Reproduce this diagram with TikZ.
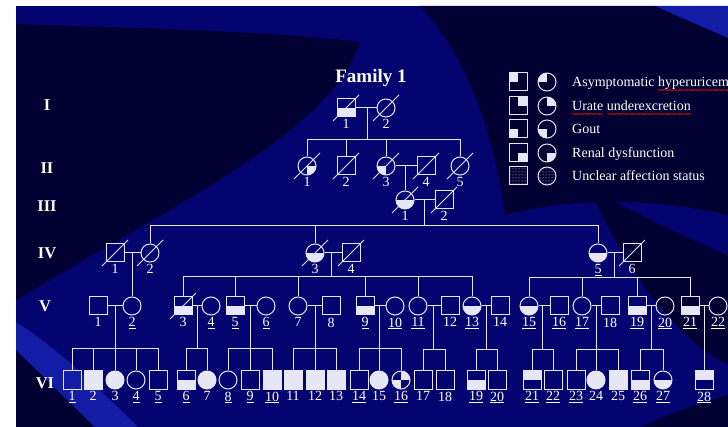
\documentclass[tikz,border=0pt]{standalone}
\usepackage{fontspec}
\setmainfont{Liberation Serif}
\usetikzlibrary{patterns,decorations.pathmorphing,positioning}

\definecolor{fg}{RGB}{230,230,245}
\definecolor{bgmid}{RGB}{4,4,112}
\definecolor{bgdark}{RGB}{0,0,50}
\definecolor{bglight}{RGB}{18,28,165}

\tikzstyle{male} = [draw=fg, rectangle, minimum size=18pt, inner sep=0pt, line width=1pt]
\tikzstyle{female} = [draw=fg, circle, minimum size=18pt, inner sep=0pt, line width=1pt]
\tikzstyle{full} = [fill=fg]
\tikzstyle{lowhalf} = [path picture={\fill[fg] (path picture bounding box.west) rectangle (path picture bounding box.south east);}]
\tikzstyle{uphalf} = [path picture={\fill[fg] (path picture bounding box.west) rectangle (path picture bounding box.north east);}]
\tikzstyle{qul} = [path picture={\fill[fg] (path picture bounding box.center) rectangle (path picture bounding box.north west);}]
\tikzstyle{qur} = [path picture={\fill[fg] (path picture bounding box.center) rectangle (path picture bounding box.north east);}]
\tikzstyle{qll} = [path picture={\fill[fg] (path picture bounding box.center) rectangle (path picture bounding box.south west);}]
\tikzstyle{qlr} = [path picture={\fill[fg] (path picture bounding box.center) rectangle (path picture bounding box.south east);}]
\tikzstyle{qurll} = [path picture={\fill[fg] (path picture bounding box.center) rectangle (path picture bounding box.north east);
  \fill[fg] (path picture bounding box.center) rectangle (path picture bounding box.south west);}]
\tikzstyle{link} = [draw=fg, line width=1pt]
\tikzstyle{num} = [text=white, font=\fontsize{14}{14}\selectfont, inner sep=0pt]
\tikzstyle{gen} = [text=white, font=\bfseries\fontsize{16.5}{16.5}\selectfont]
\tikzstyle{key} = [text=white, font=\fontsize{14}{14}\selectfont, anchor=base west, inner sep=0pt]
\tikzstyle{squig} = [draw=red!85!black, line width=0.6pt, decorate, decoration={snake, amplitude=0.8pt, segment length=3pt}]

\begin{document}
\begin{tikzpicture}[x=1pt, y=1pt, every label/.style={num}, label distance=2pt]

\useasboundingbox (0,0) rectangle (728,-427);
\clip (0,0) rectangle (728,-427);

% slide background
\fill [white] (0,0) rectangle (728,-427);
\fill [bgmid] (16,-6) rectangle (728,-427);
\fill [bgdark] (16,-24) .. controls (120,-28) and (260,-30) .. (360,-42)
  .. controls (330,-130) and (200,-190) .. (16,-300) -- cycle;
\fill [bgdark] (420,-6) -- (655,-6) -- (728,-38) -- (728,-215)
  .. controls (640,-195) and (560,-200) .. (505,-215)
  .. controls (495,-140) and (470,-60) .. (420,-6) -- cycle;
\fill [bglight] (655,-6) -- (728,-6) -- (728,-38) -- cycle;
\fill [bgdark] (590,-190) .. controls (640,-215) and (690,-240) .. (728,-255)
  -- (728,-365) .. controls (690,-345) and (640,-300) .. (590,-190) -- cycle;
\fill [bgdark] (640,-427) .. controls (680,-410) and (710,-400) .. (728,-395) -- (728,-427) -- cycle;
\fill [bgdark] (16,-350) -- (95,-427) -- (16,-427) -- cycle;
\fill [bglight] (16,-322) .. controls (60,-350) and (100,-390) .. (138,-427)
  -- (95,-427) -- (16,-350) -- cycle;

% title and generations
\node [text=white, font=\bfseries\fontsize{19}{19}\selectfont] (title) at (371,-78) {Family 1};
\node [gen] (gI) at (47,-105) {I};
\node [gen] (gII) at (47,-168) {II};
\node [gen] (gIII) at (47,-206) {III};
\node [gen] (gIV) at (47,-253) {IV};
\node [gen] (gV) at (45,-306) {V};
\node [gen] (gVI) at (45,-383) {VI};

% generation I
\node [male, lowhalf, label=below:1] (I1) at (346,-108) {};
\node [female, label=below:2] (I2) at (386,-108) {};

% generation II
\node [female, qlr, label=below:1] (II1) at (307,-166) {};
\node [male, label=below:2] (II2) at (346,-166) {};
\node [female, qll, label=below:3] (II3) at (386,-166) {};
\node [male, label=below:4] (II4) at (426,-166) {};
\node [female, label=below:5] (II5) at (460,-166) {};

% generation III
\node [female, lowhalf, label=below:1] (III1) at (405,-200) {};
\node [male, label=below:2] (III2) at (444,-200) {};

% generation IV
\node [male, label=below:1] (IV1) at (115,-253) {};
\node [female, label=below:2] (IV2) at (150,-253) {};
\node [female, lowhalf, label=below:3] (IV3) at (315,-253) {};
\node [male, label=below:4] (IV4) at (351,-253) {};
\node [female, lowhalf, label=below:\underline{5}] (IV5) at (598,-253) {};
\node [male, label=below:6] (IV6) at (632,-253) {};

% generation V
\node [male, label=below:1] (V1) at (98,-306) {};
\node [female, label=below:\underline{2}] (V2) at (132,-306) {};
\node [male, lowhalf, label=below:3] (V3) at (183,-306) {};
\node [female, label=below:\underline{4}] (V4) at (211,-306) {};
\node [male, lowhalf, label=below:\underline{5}] (V5) at (235,-306) {};
\node [female, label=below:\underline{6}] (V6) at (266,-306) {};
\node [female, label=below:7] (V7) at (298,-306) {};
\node [male, label=below:8] (V8) at (331,-306) {};
\node [male, lowhalf, label=below:\underline{9}] (V9) at (365,-306) {};
\node [female, label=below:\underline{10}] (V10) at (395,-306) {};
\node [female, label=below:\underline{11}] (V11) at (418,-306) {};
\node [male, label=below:12] (V12) at (450,-306) {};
\node [female, lowhalf, label=below:\underline{13}] (V13) at (472,-306) {};
\node [male, label=below:14] (V14) at (500,-306) {};
\node [female, lowhalf, label=below:\underline{15}] (V15) at (529,-306) {};
\node [male, label=below:\underline{16}] (V16) at (559,-306) {};
\node [female, label=below:\underline{17}] (V17) at (582,-306) {};
\node [male, label=below:18] (V18) at (610,-306) {};
\node [male, lowhalf, label=below:\underline{19}] (V19) at (637,-306) {};
\node [female, label=below:\underline{20}] (V20) at (665,-306) {};
\node [male, lowhalf, label=below:\underline{21}] (V21) at (690,-306) {};
\node [female, label=below:\underline{22}] (V22) at (718,-306) {};

% generation VI
\node [male, label=below:\underline{1}] (VI1) at (72,-380) {};
\node [male, full, label=below:2] (VI2) at (93,-380) {};
\node [female, full, label=below:3] (VI3) at (115,-380) {};
\node [female, label=below:\underline{4}] (VI4) at (136,-380) {};
\node [male, label=below:\underline{5}] (VI5) at (158,-380) {};
\node [male, lowhalf, label=below:\underline{6}] (VI6) at (186,-380) {};
\node [female, full, label=below:7] (VI7) at (207,-380) {};
\node [female, label=below:\underline{8}] (VI8) at (228,-380) {};
\node [male, label=below:\underline{9}] (VI9) at (250,-380) {};
\node [male, full, label=below:\underline{10}] (VI10) at (272,-380) {};
\node [male, full, label=below:11] (VI11) at (293,-380) {};
\node [male, full, label=below:12] (VI12) at (315,-380) {};
\node [male, full, label=below:13] (VI13) at (336,-380) {};
\node [male, label=below:\underline{14}] (VI14) at (359,-380) {};
\node [female, full, label=below:15] (VI15) at (379,-380) {};
\node [female, qurll, label=below:\underline{16}] (VI16) at (401,-380) {};
\node [male, label=below:17] (VI17) at (423,-380) {};
\node [male, label=below:18] (VI18) at (445,-380) {};
\node [male, lowhalf, label=below:\underline{19}] (VI19) at (476,-380) {};
\node [male, label=below:\underline{20}] (VI20) at (497,-380) {};
\node [male, uphalf, label=below:\underline{21}] (VI21) at (532,-380) {};
\node [male, label=below:\underline{22}] (VI22) at (553,-380) {};
\node [male, label=below:\underline{23}] (VI23) at (576,-380) {};
\node [female, full, label=below:24] (VI24) at (596,-380) {};
\node [male, full, label=below:25] (VI25) at (618,-380) {};
\node [male, lowhalf, label=below:\underline{26}] (VI26) at (640,-380) {};
\node [female, lowhalf, label=below:\underline{27}] (VI27) at (663,-380) {};
\node [male, uphalf, label=below:\underline{28}] (VI28) at (704,-380) {};

% deceased
\foreach \n in {I1,I2,II1,II2,II3,II4,II5,III1,III2,IV1,IV2,IV3,IV4,IV6,V3}
  \draw [link] ([shift={(-13,-13)}]\n.center) -- ([shift={(13,13)}]\n.center);

% I x I
\draw [link] (I1) -- (I2);
\coordinate (sI) at (367,-140);
\draw [link] (sI |- I1) -- (sI);
\foreach \c in {II1,II2,II3,II5} \draw [link] (\c) |- (sI);

% II x II
\draw [link] (II3) -- (II4);
\draw [link] (III1 |- II3) -- (III1);

% III x III
\draw [link] (III1) -- (III2);
\coordinate (sIII) at (424,-226);
\draw [link] (sIII |- III1) -- (sIII);
\foreach \c in {IV2,IV3,IV5} \draw [link] (\c) |- (sIII);

% IV
\draw [link] (IV1) -- (IV2);
\draw [link] (V2 |- IV1) -- (V2);
\draw [link] (IV3) -- (IV4);
\coordinate (sIVa) at (331,-277);
\draw [link] (sIVa |- IV3) -- (sIVa);
\foreach \c in {V3,V5,V7,V9,V11,V13} \draw [link] (\c) |- (sIVa);
\draw [link] (IV5) -- (IV6);
\coordinate (sIVb) at (614,-278);
\draw [link] (sIVb |- IV5) -- (sIVb);
\foreach \c in {V15,V17,V19,V21} \draw [link] (\c) |- (sIVb);

% V
\draw [link] (V1) -- (V2);
\coordinate (sVa) at (115,-349);
\draw [link] (sVa |- V1) -- (VI3);
\foreach \c in {VI1,VI2,VI4,VI5} \draw [link] (\c) |- (sVa);

\draw [link] (V3) -- (V4);
\coordinate (sVb) at (197,-349);
\draw [link] (sVb |- V3) -- (sVb);
\foreach \c in {VI6,VI7} \draw [link] (\c) |- (sVb);

\draw [link] (V5) -- (V6);
\coordinate (sVc) at (250,-349);
\draw [link] (sVc |- V5) -- (VI9);
\foreach \c in {VI8,VI10} \draw [link] (\c) |- (sVc);

\draw [link] (V7) -- (V8);
\coordinate (sVd) at (315,-349);
\draw [link] (sVd |- V7) -- (VI12);
\foreach \c in {VI11,VI13} \draw [link] (\c) |- (sVd);

\draw [link] (V9) -- (V10);
\coordinate (sVe) at (379,-349);
\draw [link] (sVe |- V9) -- (VI15);
\foreach \c in {VI14,VI16} \draw [link] (\c) |- (sVe);

\draw [link] (V11) -- (V12);
\coordinate (sVf) at (433,-350);
\draw [link] (sVf |- V11) -- (sVf);
\foreach \c in {VI17,VI18} \draw [link] (\c) |- (sVf);

\draw [link] (V13) -- (V14);
\coordinate (sVg) at (486,-350);
\draw [link] (sVg |- V13) -- (sVg);
\foreach \c in {VI19,VI20} \draw [link] (\c) |- (sVg);

\draw [link] (V15) -- (V16);
\coordinate (sVh) at (542,-350);
\draw [link] (sVh |- V15) -- (sVh);
\foreach \c in {VI21,VI22} \draw [link] (\c) |- (sVh);

\draw [link] (V17) -- (V18);
\coordinate (sVi) at (596,-350);
\draw [link] (sVi |- V17) -- (VI24);
\foreach \c in {VI23,VI25} \draw [link] (\c) |- (sVi);

\draw [link] (V19) -- (V20);
\coordinate (sVj) at (651,-350);
\draw [link] (sVj |- V19) -- (sVj);
\foreach \c in {VI26,VI27} \draw [link] (\c) |- (sVj);

\draw [link] (V21) -- (V22);
\draw [link] (VI28 |- V21) -- (VI28);

% key
\node [male, qul] (kS1) at (518,-82) {};
\node [female, qul] (kC1) at (547,-82) {};
\node [key] (kT1) at (572,-87) {Asymptomatic hyperuricemia};
\node [male, qur] (kS2) at (518,-106) {};
\node [female, qur] (kC2) at (547,-106) {};
\node [key] (kT2) at (572,-111) {Urate underexcretion};
\node [male, qll] (kS3) at (518,-129) {};
\node [female, qll] (kC3) at (547,-129) {};
\node [key] (kT3) at (572,-134) {Gout};
\node [male, qlr] (kS4) at (518,-153) {};
\node [female, qlr] (kC4) at (547,-153) {};
\node [key] (kT4) at (572,-158) {Renal dysfunction};
\node [male, pattern=dots, pattern color=fg] (kS5) at (518,-176) {};
\node [female, pattern=dots, pattern color=fg] (kC5) at (547,-176) {};
\node [key] (kT5) at (572,-181) {Unclear affection status};

\draw [squig] ([xshift=86pt,yshift=-3pt]kT1.base west) -- ([yshift=-3pt]kT1.base east);
\draw [squig] ([yshift=-3pt]kT2.base west) -- ([xshift=31pt,yshift=-3pt]kT2.base west);
\draw [squig] ([xshift=35pt,yshift=-3pt]kT2.base west) -- ([yshift=-3pt]kT2.base east);

\end{tikzpicture}
\end{document}
